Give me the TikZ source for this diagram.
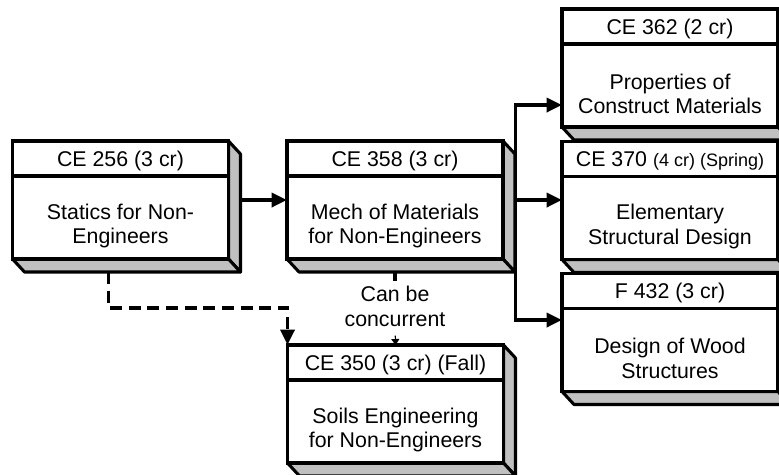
\documentclass[tikz,border=0pt]{standalone}
\usepackage{fontspec}
\setmainfont{Liberation Sans}
\usetikzlibrary{calc,arrows.meta}
\definecolor{facegray}{HTML}{C0C0C0}
\pgfdeclarelayer{faces}
\pgfsetlayers{faces,main}
\tikzset{
  front/.style={draw=black, fill=white, line width=2.3pt, minimum width=162pt, minimum height=88.5pt, inner sep=0pt, outer sep=0pt},
  face/.style={draw=black, fill=facegray, line width=2.3pt, line join=round},
  divline/.style={draw=black, line width=2.3pt},
  hdr/.style={inner sep=0pt, font=\fontsize{16}{18.5}\selectfont},
  bodytext/.style={inner sep=0pt, align=center, font=\fontsize{16}{18.5}\selectfont},
  lbl/.style={inner sep=2pt, fill=white, align=center, font=\fontsize{16}{18.5}\selectfont},
  conn/.style={draw=black, line width=2.6pt},
  bigtip/.style={-{Triangle[length=11.5pt,width=10.5pt]}},
  dashconn/.style={conn, dash pattern=on 9pt off 5pt},
}
\newcommand\coursebox[5]{%
  \node[front] (#1) at (#2) {};
  \begin{pgfonlayer}{faces}
    \filldraw[face] (#1.north east) -- ++(12,13) -- ($(#1.south east)+(12,13)$) -- (#1.south east) -- cycle;
    \filldraw[face] (#1.south west) -- ++(12,13) -- ($(#1.south east)+(12,13)$) -- (#1.south east) -- cycle;
  \end{pgfonlayer}
  \draw[divline] ($(#1.north west)+(0,35)$) -- ($(#1.north east)+(0,35)$);
  \node[hdr] (#1h) at ($(#1.north)+(0,19.5)$) {#4};
  \node[bodytext] (#1b) at ($(#1.north)+(0,85)$) {#5};
}
\begin{document}
\begin{tikzpicture}[x=0.75pt,y=-0.75pt]
\useasboundingbox (0,0) rectangle (779,475);
\clip (0,0) rectangle (779,475);

\coursebox{A}{120.5,200}{}{CE 256 (3 cr)}{Statics for Non-\\Engineers}
\coursebox{B}{395,200}{}{CE 358 (3 cr)}{Mech of Materials\\for Non-Engineers}
\coursebox{C}{670,68}{}{CE 362 (2 cr)}{Properties of\\Construct Materials}
\coursebox{D}{670,200.5}{}{CE 370 {\fontsize{13.5}{16}\selectfont (4 cr) (Spring)}}{Elementary\\Structural Design}
\coursebox{E}{670,332.5}{}{F 432 (3 cr)}{Design of Wood\\Structures}
\coursebox{F}{395.5,404}{}{CE 350 (3 cr) (Fall)}{Soils Engineering\\for Non-Engineers}

% A -> B
\draw[conn, bigtip, shorten <=9pt] (A.east) -- (B.west);
% B -> D
\draw[conn, bigtip, shorten <=9pt] (B.east) -- (B.east -| D.west);
% branch to C and E
\coordinate (j1) at ($(B.east)+(12.5,-95)$);
\coordinate (j2) at ($(B.east)+(12.5,120)$);
\draw[conn, {Triangle[length=11.5pt,width=10.5pt]}-{Triangle[length=11.5pt,width=10.5pt]}]
  (j1 -| C.west) -- (j1) -- (j2) -- (j2 -| E.west);

% B -> F, can be concurrent
\node[lbl, inner sep=0pt] (cc) at (395,306.5) {Can be\\concurrent};
\draw[conn, shorten <=9.75pt, shorten >=4pt] (B.south) -- (cc.north);
\draw[line width=0.8pt, -{Triangle[length=4.5pt,width=6pt]}, shorten <=6.5pt] (cc.south) -- (F.north);

% A -> F dashed
\coordinate (d1) at ($(A.south west)+(96,0)$);
\coordinate (d2) at ($(F.north west)+(0,-37)$);
\draw[dashconn, bigtip, shorten <=9.75pt] (d1) |- (d2) -- (F.north west);
\end{tikzpicture}
\end{document}
